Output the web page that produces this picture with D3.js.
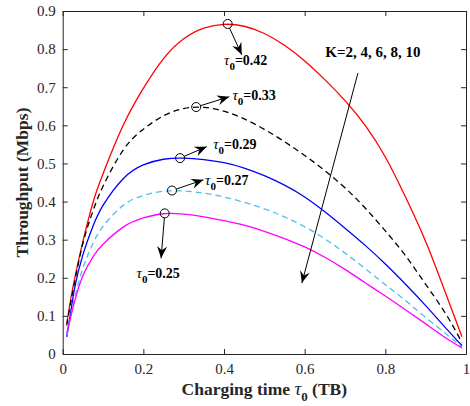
<!DOCTYPE html>
<html><head><meta charset="utf-8">
<script src="https://cdn.jsdelivr.net/npm/d3@7"></script>
<style>body{margin:0;background:#fff}svg{display:block}</style>
</head><body>
<script>
const tau = [0.01,0.02,0.03,0.05,0.075,0.1,0.15,0.2,0.25,0.3,0.35,0.4,0.45,0.5,0.55,0.6,0.65,0.7,0.75,0.8,0.85,0.9,0.95,0.99];
const redK2     = [0.08,0.145,0.2,0.295,0.397,0.473,0.6,0.697,0.775,0.827,0.855,0.865,0.86,0.841,0.81,0.769,0.72,0.665,0.6,0.517,0.412,0.295,0.158,0.045];
const blackK4   = [0.075,0.135,0.19,0.29,0.375,0.44,0.535,0.59,0.625,0.644,0.647,0.637,0.617,0.5895,0.557,0.521,0.481,0.436,0.383,0.323,0.258,0.183,0.105,0.03];
const blueK6    = [0.045,0.11,0.175,0.26,0.335,0.39,0.46,0.496,0.511,0.514,0.51,0.502,0.488,0.468,0.443,0.412,0.373,0.33,0.285,0.236,0.183,0.127,0.068,0.022];
const cyanK8    = [0.05,0.1,0.148,0.225,0.29,0.335,0.39,0.416,0.427,0.428,0.422,0.412,0.398,0.381,0.36,0.334,0.302,0.265,0.224,0.182,0.14,0.096,0.053,0.018];
const magentaK10= [0.055,0.098,0.14,0.205,0.255,0.288,0.333,0.357,0.368,0.367,0.36,0.35,0.338,0.322,0.303,0.281,0.254,0.222,0.187,0.152,0.116,0.079,0.042,0.016];
const peakTau   = [0.409,0.331,0.291,0.271,0.253];
const peakVal   = [0.866,0.648,0.514,0.429,0.369];
const peakLabel = ["0.42","0.33","0.29","0.27","0.25"];
const arrowTipTau = [0.444,0.413,0.357,0.349,0.244];
const arrowTipVal = [0.785,0.675,0.544,0.457,0.251];
const labelTau = [0.400,0.421,0.373,0.353,0.183];
const labelVal = [0.759,0.667,0.537,0.444,0.2];
const kLabel = "K=2, 4, 6, 8, 10";
const kLabelPos = [0.651,0.78];
const kArrow = [[0.732,0.737],[0.593,0.186]];
const xTicks = [0,0.2,0.4,0.6,0.8,1];
const yTicks = [0,0.1,0.2,0.3,0.4,0.5,0.6,0.7,0.8,0.9];

const series = [
  {v:redK2, color:"#ff0000", dash:null},
  {v:blackK4, color:"#000000", dash:"6,4"},
  {v:blueK6, color:"#0000ff", dash:null},
  {v:cyanK8, color:"#4dbeee", dash:"6,4"},
  {v:magentaK10, color:"#ff00ff", dash:null}
];

const W=470,H=406;
const m={l:62.7,r:4,t:11,b:52};
const svg=d3.select("body").append("svg").attr("width",W).attr("height",H);
const x=d3.scaleLinear().domain([0,1]).range([m.l,W-m.r]);
const y=d3.scaleLinear().domain([0,0.9]).range([H-m.b,m.t]);
const axCol="#262626";
const serif="'Liberation Serif','Times New Roman',serif";

svg.append("defs").append("marker").attr("id","ah").attr("viewBox","-13 -6 15 12")
  .attr("refX",0).attr("refY",0).attr("markerWidth",15).attr("markerHeight",12)
  .attr("markerUnits","userSpaceOnUse").attr("orient","auto")
  .append("path").attr("d","M0,0 L-12,-5 L-8,0 L-12,5 Z").attr("fill","#000");

const line=d3.line().x((d,i)=>x(tau[i])).y(d=>y(d)).curve(d3.curveNatural);
series.forEach(s=>{
  svg.append("path").attr("d",line(s.v)).attr("fill","none").attr("stroke",s.color)
    .attr("stroke-width",1.3).attr("stroke-dasharray",s.dash);
});

const gx=svg.append("g").attr("transform",`translate(0,${y(0)})`)
  .call(d3.axisBottom(x).tickValues(xTicks).tickFormat(d=>d===0||d===1?d3.format("d")(d):d3.format(".1f")(d)).tickSizeInner(-5).tickSizeOuter(0).tickPadding(9));
const gxt=svg.append("g").attr("transform",`translate(0,${y(0.9)})`)
  .call(d3.axisTop(x).tickValues(xTicks).tickFormat("").tickSizeInner(-5).tickSizeOuter(0));
const gy=svg.append("g").attr("transform",`translate(${x(0)},0)`)
  .call(d3.axisLeft(y).tickValues(yTicks).tickFormat(d=>d===0?"0":d3.format(".1f")(d)).tickSizeInner(-5).tickSizeOuter(0).tickPadding(7));
const gyr=svg.append("g").attr("transform",`translate(${x(1)},0)`)
  .call(d3.axisRight(y).tickValues(yTicks).tickFormat("").tickSizeInner(-5).tickSizeOuter(0));
[gx,gxt,gy,gyr].forEach(g=>{
  g.selectAll("path,line").attr("stroke",axCol).attr("stroke-width",1);
  g.selectAll("text").attr("fill",axCol).attr("font-family",serif).attr("font-size",15);
});

peakTau.forEach((t,i)=>{
  const cx=x(t),cy=y(peakVal[i]);
  const tx=x(arrowTipTau[i]),ty=y(arrowTipVal[i]);
  const dx=tx-cx,dy=ty-cy,L=Math.hypot(dx,dy),r=4.5;
  svg.append("line").attr("x1",cx+dx/L*r).attr("y1",cy+dy/L*r).attr("x2",tx).attr("y2",ty)
    .attr("stroke","#000").attr("stroke-width",1).attr("marker-end","url(#ah)");
  svg.append("circle").attr("cx",cx).attr("cy",cy).attr("r",r).attr("fill","none")
    .attr("stroke","#000").attr("stroke-width",1);
  const tt=svg.append("text").attr("x",x(labelTau[i])).attr("y",y(labelVal[i]))
    .attr("font-family",serif).attr("fill","#000");
  tt.append("tspan").attr("font-style","italic").attr("font-size",15).text("τ");
  tt.append("tspan").attr("font-weight","bold").attr("font-size",11).attr("dy",5).text("0");
  tt.append("tspan").attr("font-weight","bold").attr("font-size",14).attr("dy",-5).text("="+peakLabel[i]);
});

svg.append("text").attr("x",x(kLabelPos[0])).attr("y",y(kLabelPos[1]))
  .attr("font-family",serif).attr("font-weight","bold").attr("font-size",15).attr("fill","#000").text(kLabel);
svg.append("line").attr("x1",x(kArrow[0][0])).attr("y1",y(kArrow[0][1]))
  .attr("x2",x(kArrow[1][0])).attr("y2",y(kArrow[1][1]))
  .attr("stroke","#000").attr("stroke-width",1).attr("marker-end","url(#ah)");

const xl=svg.append("text").attr("x",(x(0)+x(1))/2).attr("y",395).attr("text-anchor","middle")
  .attr("font-family",serif).attr("font-weight","bold").attr("font-size",17.5).attr("fill",axCol);
xl.append("tspan").text("Charging time ");
xl.append("tspan").attr("font-style","italic").attr("font-weight","normal").attr("font-size",19).text("τ");
xl.append("tspan").attr("font-size",13).attr("dy",6).text("0");
xl.append("tspan").attr("dy",-6).text(" (TB)");
svg.append("text").attr("transform",`translate(28,${(y(0)+y(0.9))/2}) rotate(-90)`).attr("text-anchor","middle")
  .attr("font-family",serif).attr("font-weight","bold").attr("font-size",17.5).attr("fill",axCol)
  .text("Throughput (Mbps)");
</script>
</body></html>
